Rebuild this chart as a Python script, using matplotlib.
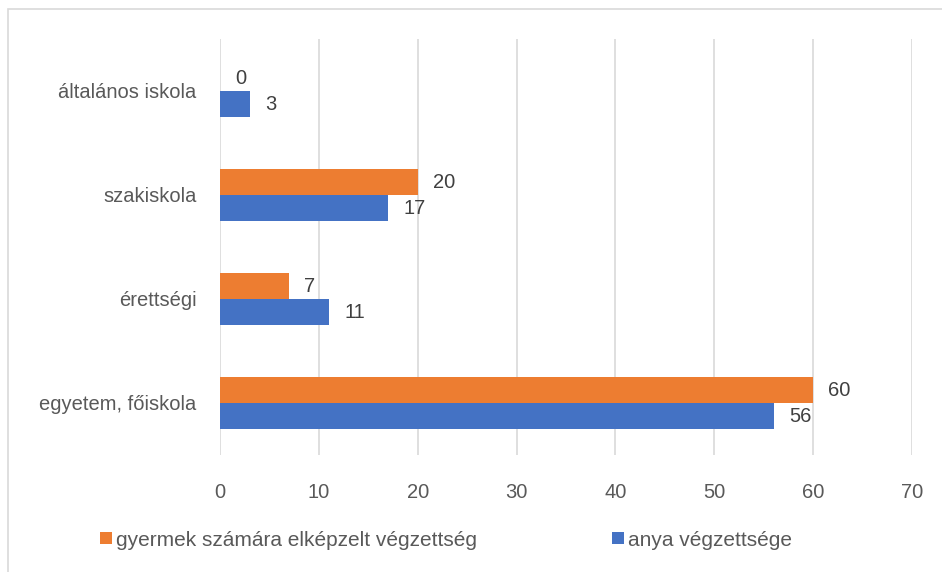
import matplotlib.pyplot as plt
import numpy as np
from matplotlib.patches import Rectangle

categories = ['egyetem, főiskola', 'érettségi', 'szakiskola', 'általános iskola']
gyermek = [60, 7, 20, 0]
anya = [56, 11, 17, 3]
xticks = [0, 10, 20, 30, 40, 50, 60, 70]

orange = '#ED7D31'
blue = '#4472C4'
txt = '#595959'

plt.rcParams['font.family'] = ['Liberation Sans', 'DejaVu Sans']

fig = plt.figure(figsize=(9.42, 5.72), dpi=100)
ax = fig.add_axes([220/942, 1 - 455/572, (912-220)/942, (455-39)/572])

y = np.arange(len(categories))
h = 0.25
ax.barh(y + h/2, gyermek, height=h, color=orange, label='gyermek számára elképzelt végzettség', zorder=3)
ax.barh(y - h/2, anya, height=h, color=blue, label='anya végzettsége', zorder=3)

# value labels next to bar ends
for i in range(len(categories)):
    ax.annotate(str(gyermek[i]), (gyermek[i], y[i] + h/2), xytext=(11, 0), textcoords='offset points',
                va='center', ha='left', fontsize=14.5, color='#404040')
    ax.annotate(str(anya[i]), (anya[i], y[i] - h/2), xytext=(11, 0), textcoords='offset points',
                va='center', ha='left', fontsize=14.5, color='#404040')

ax.set_xlim(0, 70)
ax.set_ylim(-0.5, len(categories) - 0.5)
ax.set_xticks(xticks)
ax.set_yticks(y)
ax.set_yticklabels(categories)
ax.tick_params(axis='both', length=0, labelsize=14.5, colors=txt)
ax.tick_params(axis='x', pad=20)
ax.tick_params(axis='y', pad=17)
ax.grid(axis='x', color='#D9D9D9', linewidth=1.2, zorder=0)
for s in ax.spines.values():
    s.set_visible(False)

h1, l1 = ax.get_legend_handles_labels()
leg = fig.legend(h1, l1, loc='center', bbox_to_anchor=(446/942, 1 - 540/572), ncol=2, frameon=False,
                 fontsize=15, handlelength=0.55, handleheight=0.55, handletextpad=0.2, columnspacing=6.5)
for t in leg.get_texts():
    t.set_color(txt)

# chart border (clipped at right and bottom)
fig.patches.append(Rectangle((8/942, -0.1), 1.1, 1 - 9/572 + 0.1, transform=fig.transFigure,
                             fill=False, edgecolor='#D9D9D9', linewidth=1.2))

fig.savefig('out.png', dpi=100)
